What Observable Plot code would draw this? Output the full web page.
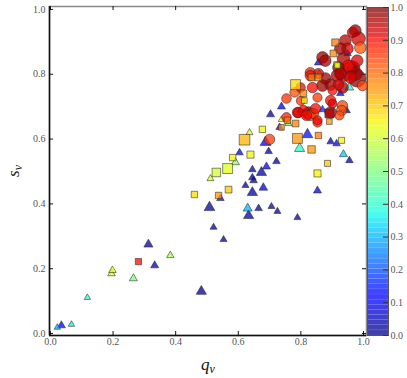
<!DOCTYPE html>
<html><head><meta charset="utf-8">
<script src="https://cdn.jsdelivr.net/npm/d3@7"></script>
<script src="https://cdn.jsdelivr.net/npm/@observablehq/plot@0.6"></script>
<style>
body{margin:0;background:#fff}
#wrap{position:relative;width:407px;height:378px}
#wrap svg{position:absolute;left:0;top:0}
</style>
</head><body><div id="wrap"></div>
<script>
// ---- data: triangles ----
const triQ = [0.022,0.035,0.067,0.118,0.195,0.198,0.265,0.313,0.333,0.383,0.482,0.543,0.508,0.521,0.553,0.623,0.645,0.680,0.649,0.853,0.630,0.633,0.665,0.706,0.725,0.789,0.645,0.645,0.674,0.690,0.722,0.636,0.604,0.591,0.511,0.687,0.697,0.821,0.796,0.895,0.914,0.936,0.955,0.738,0.703,0.760,0.732,0.738,0.856,0.859,0.955,0.926,0.869,0.946,0.949];
const triS = [0.019,0.025,0.028,0.111,0.185,0.195,0.170,0.275,0.210,0.241,0.130,0.417,0.389,0.328,0.290,0.457,0.435,0.450,0.472,0.441,0.386,0.364,0.386,0.392,0.377,0.358,0.506,0.481,0.497,0.515,0.531,0.620,0.558,0.528,0.478,0.590,0.562,0.614,0.571,0.592,0.586,0.553,0.534,0.700,0.676,0.648,0.636,0.660,0.836,0.802,0.759,0.741,0.691,0.688,0.864];
const triC = [0.30,0.12,0.36,0.40,0.60,0.63,0.50,0.03,0.03,0.55,0.02,0.12,0.03,0.03,0.03,0.03,0.03,0.09,0.03,0.09,0.30,0.03,0.03,0.03,0.03,0.03,0.03,0.03,0.03,0.12,0.03,0.62,0.09,0.52,0.60,0.12,0.03,0.14,0.40,0.03,0.12,0.32,0.03,0.09,0.03,0.50,0.09,0.62,0.09,0.45,0.38,0.09,0.16,0.03,0.12];
const triR = [2.4,3.0,2.4,2.4,2.8,2.8,3.0,3.4,3.0,2.8,3.8,2.8,4.0,2.6,2.6,2.6,3.8,3.2,2.8,3.0,3.4,3.8,2.8,2.6,2.6,2.6,2.8,2.8,3.8,3.0,2.8,2.6,2.8,3.0,2.6,4.0,2.8,4.0,3.8,2.8,2.8,3.0,2.8,3.0,3.0,2.6,2.8,2.4,3.0,2.4,3.2,2.8,2.8,2.8,2.8];

// ---- data: squares ----
const sqQ = [0.281,0.460,0.537,0.569,0.620,0.639,0.582,0.566,0.530,0.677,0.789,0.834,0.856,0.930,0.885,0.853,0.757,0.783,0.738,0.914,0.834,0.856,0.783,0.808,0.811,0.891,0.891,0.904,0.910,0.917];
const sqS = [0.222,0.429,0.426,0.444,0.598,0.552,0.543,0.509,0.497,0.630,0.602,0.568,0.611,0.596,0.525,0.494,0.658,0.648,0.636,0.830,0.790,0.790,0.768,0.741,0.719,0.679,0.654,0.864,0.898,0.827];
const sqC = [0.90,0.68,0.75,0.70,0.72,0.65,0.65,0.62,0.60,0.65,0.75,0.75,0.78,0.65,0.70,0.66,0.78,0.77,0.76,0.65,0.78,0.77,0.68,0.77,0.65,0.96,0.75,0.77,0.78,0.62];
const sqR = [3.5,3.6,3.6,3.8,6.0,4.0,3.6,5.6,4.8,3.6,5.6,4.2,3.6,3.4,3.4,4.0,3.6,3.8,3.2,3.2,3.8,3.8,5.6,3.8,3.2,5.0,3.2,3.8,4.0,3.2];

// ---- data: circles ----
const cirQ = [0.700,0.754,0.789,0.821,0.830,0.853,0.952,0.830,0.856,0.878,0.917,0.869,0.895,0.920,0.901,0.936,0.958,0.980,0.837,0.853,0.754,0.895,0.901,0.933,0.930,0.895,0.808,0.824,0.840,0.853,0.792,0.923,0.965,0.974,0.984,0.990,0.980,0.968,0.942,0.949,0.926,0.936,0.920,0.869,0.974,0.958,0.926,0.830,0.800,0.780,0.799,0.878,0.997,0.933,0.818,0.847];
const cirS = [0.599,0.667,0.682,0.679,0.673,0.651,0.827,0.805,0.802,0.787,0.796,0.765,0.768,0.768,0.750,0.802,0.821,0.787,0.759,0.728,0.725,0.719,0.709,0.703,0.688,0.682,0.688,0.682,0.679,0.658,0.682,0.673,0.929,0.935,0.910,0.882,0.842,0.821,0.904,0.879,0.879,0.848,0.821,0.852,0.802,0.790,0.802,0.796,0.718,0.744,0.759,0.842,0.765,0.759,0.673,0.694];
const cirC = [0.85,0.88,0.90,0.95,0.85,0.88,0.90,0.88,0.92,0.97,0.96,0.97,0.97,0.92,0.90,0.97,0.92,0.98,0.90,0.85,0.86,0.90,0.92,0.84,0.83,0.96,0.90,0.92,0.84,0.90,0.92,0.84,0.95,0.97,0.92,0.82,0.92,0.96,0.95,0.92,0.97,0.96,0.97,0.97,0.97,0.92,0.95,0.90,0.86,0.83,0.90,0.97,0.84,0.97,0.90,0.90];
const cirR = [5.2,4.8,5.2,5.8,5.2,4.6,5.8,5.2,5.2,5.8,6.3,5.8,5.8,5.2,4.6,8.0,6.9,8.6,5.2,4.6,4.8,5.2,4.6,5.2,5.2,5.8,5.2,5.8,5.2,4.6,5.2,4.6,5.2,5.8,6.9,5.8,5.8,6.3,5.8,5.8,5.8,6.3,5.8,5.8,6.9,5.8,5.8,5.2,4.6,4.8,4.8,5.8,5.2,5.8,5.2,5.2];

// ---- axes ----
const xDomain = [-0.003, 1.0096];
const yDomain = [-0.006, 1.009];
const axisTicks = [0, 0.2, 0.4, 0.6, 0.8, 1.0];
const cbTicks = [0, 0.1, 0.2, 0.3, 0.4, 0.5, 0.6, 0.7, 0.8, 0.9, 1.0];

// jet colormap stops
const jetStops = [0, 0.11, 0.125, 0.34, 0.35, 0.375, 0.64, 0.65, 0.66, 0.89, 0.91, 1];
const jetColors = ["#000080","#0000ff","#0000ff","#00dbff","#00e6f7","#15ffe2","#efff08","#f7f500","#ffec00","#ff1300","#e80000","#800000"];

function rows(q, s, c, r) { return q.map((d, i) => ({q: d, s: s[i], c: c[i], r: r[i]})); }
const triangles = rows(triQ, triS, triC, triR);
const squares = rows(sqQ, sqS, sqC, sqR);
const circles = rows(cirQ, cirS, cirC, cirR);

const colorScale = {type: "linear", domain: jetStops, range: jetColors, interpolate: "rgb"};
const font = "'Liberation Serif', 'DejaVu Serif', serif";
const dotOpts = (symbol) => ({x: "q", y: "s", r: "r", fill: "c", symbol, stroke: "#2a2a2a", strokeWidth: 0.7, strokeOpacity: 0.8, fillOpacity: 0.75});

const main = Plot.plot({
  width: 407, height: 378,
  marginLeft: 49, marginRight: 41, marginTop: 6, marginBottom: 43,
  style: {fontFamily: font, fontSize: "10px", background: "transparent"},
  x: {domain: xDomain},
  y: {domain: yDomain},
  r: {type: "identity"},
  color: colorScale,
  marks: [
    Plot.frame({stroke: "#888", strokeWidth: 1.5}),
    Plot.ruleX([xDomain[0]], {stroke: "#111", strokeWidth: 1.5}),
    Plot.ruleY([yDomain[0]], {stroke: "#111", strokeWidth: 1.5}),
    Plot.tickX(axisTicks, {x: d => d, insetTop: 325, stroke: "#111"}),
    Plot.tickX(axisTicks, {x: d => d, insetBottom: 325, stroke: "#111"}),
    Plot.tickY(axisTicks, {y: d => d, insetRight: 313, stroke: "#111"}),
    Plot.tickY(axisTicks, {y: d => d, insetLeft: 313, stroke: "#111"}),
    Plot.axisX(axisTicks, {tickSize: 0, tickPadding: 2, tickFormat: d3.format(".1f"), fill: "#555", label: "q_v", labelAnchor: "center", labelOffset: 34}),
    Plot.axisY(axisTicks, {tickSize: 0, tickPadding: 4, tickFormat: d3.format(".1f"), fill: "#555", label: "s_v", labelAnchor: "center", labelOffset: 43}),
    Plot.dot(triangles, dotOpts("triangle")),
    Plot.dot(circles, dotOpts("circle")),
    Plot.dot(squares, dotOpts("square"))
  ]
});

const bands = d3.range(64).map(i => ({lo: i / 64, hi: (i + 1) / 64, v: (i + 0.5) / 64}));
const cb = Plot.plot({
  width: 407, height: 378,
  marginLeft: 367, marginRight: 19, marginTop: 7, marginBottom: 43,
  style: {fontFamily: font, fontSize: "10px", background: "transparent"},
  y: {domain: [0, 1]},
  color: colorScale,
  marks: [
    Plot.rect(bands, {y1: "lo", y2: "hi", fill: "v", fillOpacity: 0.75, stroke: "white", strokeOpacity: 0.12, strokeWidth: 0.5}),
    Plot.frame({stroke: "#555", strokeWidth: 1}),
    Plot.tickY(cbTicks, {y: d => d, insetLeft: 16, stroke: "#333"}),
    Plot.axisY(cbTicks, {anchor: "right", tickSize: 0, tickPadding: 2, tickFormat: d3.format(".1f"), fill: "#555", label: null})
  ]
});

const wrap = document.getElementById("wrap");
wrap.appendChild(main);
wrap.appendChild(cb);

function mathLabel(sel, base, sub) {
  sel.each(function() {
    const t = d3.select(this);
    t.text(null).attr("fill", "#111").style("font-size", "17px").style("font-family", font);
    t.append("tspan").attr("font-style", "italic").text(base);
    t.append("tspan").attr("font-style", "italic").attr("font-size", "12px").attr("dy", "0.3em").text(sub);
  });
}
mathLabel(d3.select(main).selectAll('g[aria-label="x-axis label"] text'), "q", "v");
mathLabel(d3.select(main).selectAll('g[aria-label="y-axis label"] text'), "s", "v");
</script>
</body></html>
